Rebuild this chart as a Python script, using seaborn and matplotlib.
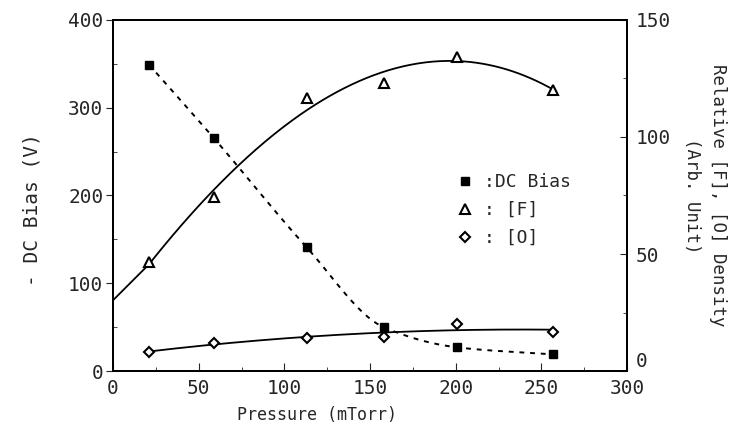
import matplotlib

matplotlib.use("Agg")

import matplotlib.pyplot as plt
import numpy as np
import seaborn as sns
from matplotlib.lines import Line2D
from matplotlib.ticker import MultipleLocator

# values
pressure = [21, 59, 113, 158, 201, 257]
dc_bias = [349, 265, 141, 50, 27, 19]
f_density = [46.6, 74.4, 116.7, 123, 134.3, 120]
o_density = [8.2, 12.2, 14.0, 14.6, 20.2, 16.8]

x_ticks = [0, 50, 100, 150, 200, 250, 300]
left_ticks = [0, 100, 200, 300, 400]
right_ticks = [0, 50, 100, 150]


def pchip(x, y, xs):
    x = np.asarray(x, float)
    y = np.asarray(y, float)
    h = np.diff(x)
    d = np.diff(y) / h
    m = np.zeros_like(y)
    for k in range(1, len(x) - 1):
        if d[k - 1] * d[k] > 0:
            w1 = 2 * h[k] + h[k - 1]
            w2 = h[k] + 2 * h[k - 1]
            m[k] = (w1 + w2) / (w1 / d[k - 1] + w2 / d[k])
    m[0] = d[0]
    m[-1] = d[-1]
    idx = np.clip(np.searchsorted(x, xs) - 1, 0, len(x) - 2)
    t = (xs - x[idx]) / h[idx]
    h00 = 2 * t**3 - 3 * t**2 + 1
    h10 = t**3 - 2 * t**2 + t
    h01 = -2 * t**3 + 3 * t**2
    h11 = t**3 - t**2
    return h00 * y[idx] + h10 * h[idx] * m[idx] + h01 * y[idx + 1] + h11 * h[idx] * m[idx + 1]


sns.set_style("ticks")
plt.rcParams["font.family"] = ["DejaVu Sans Mono", "DejaVu Sans"]

fig = plt.figure(figsize=(7.31, 4.32), dpi=100)
ax = fig.add_axes([0.1546, 0.141, 0.7032, 0.813])
ax2 = ax.twinx()

# fitted / smoothed curves
xs_dc = np.linspace(pressure[0], pressure[-1], 300)
sns.lineplot(x=xs_dc, y=pchip(pressure, dc_bias, xs_dc), ax=ax, color="black",
             lw=1.4, linestyle=(0, (2.5, 3)))

# [F]: cubic fit over the data, straight lead-in from the axis
xs_f = np.linspace(0, pressure[-1], 300)
f_coef = np.polyfit(pressure, f_density, 3)
f_fit = np.polyval(f_coef, xs_f)
lead_slope = (f_density[1] - f_density[0]) / (pressure[1] - pressure[0])
start_val = np.polyval(f_coef, pressure[0])
lead = xs_f < pressure[0]
f_fit[lead] = start_val + lead_slope * (xs_f[lead] - pressure[0])
sns.lineplot(x=xs_f, y=f_fit, ax=ax2, color="black", lw=1.3)

xs_o = np.linspace(pressure[0], pressure[-1], 300)
o_fit = np.polyval(np.polyfit(pressure, o_density, 2), xs_o)
sns.lineplot(x=xs_o, y=o_fit, ax=ax2, color="black", lw=1.3)

# data points
ax.plot(pressure, dc_bias, ls="none", marker="s", ms=6, color="black")
ax2.plot(pressure, f_density, ls="none", marker="^", ms=6.5, mfc="white",
         mec="black", mew=1.5)
ax2.plot(pressure, o_density, ls="none", marker="D", ms=5, mfc="white",
         mec="black", mew=1.5)

ax.set_xlim(0, 300)
ax.set_ylim(0, 400)
ax2.set_ylim(0, 150)
ax.set_xticks(x_ticks)
ax.set_yticks(left_ticks)
ax2.set_yticks(right_ticks)
ax.xaxis.set_minor_locator(MultipleLocator(25))
ax.yaxis.set_minor_locator(MultipleLocator(50))
ax2.yaxis.set_minor_locator(MultipleLocator(25))

ax.tick_params(axis="x", which="both", direction="in", labelsize=14, pad=6)
ax.tick_params(axis="x", which="major", length=6)
ax.tick_params(axis="x", which="minor", length=3)
ax.tick_params(axis="y", which="major", direction="out", length=5, labelsize=14, pad=2)
ax.tick_params(axis="y", which="minor", direction="in", length=3)
ax2.tick_params(axis="y", which="major", direction="in", length=5, labelsize=14, pad=6)
ax2.tick_params(axis="y", which="minor", direction="in", length=3)
ax2.get_yticklabels()[0].set_verticalalignment("bottom")

for a in (ax, ax2):
    for s in a.spines.values():
        s.set_linewidth(1.4)
        s.set_color("black")

ax.set_xlabel("Pressure (mTorr)", fontsize=12, labelpad=2)
ax.xaxis.set_label_coords(0.397, -0.1)
ax.set_ylabel("- DC Bias (V)", fontsize=14)
ax.yaxis.set_label_coords(-0.14, 0.46)
ax2.set_ylabel("Relative [F], [O] Density\n(Arb. Unit)", fontsize=12.5,
               rotation=270, linespacing=1.6, va="center")
ax2.yaxis.set_label_coords(1.152, 0.5)

handles = [
    Line2D([], [], ls="none", marker="s", ms=6, color="black"),
    Line2D([], [], ls="none", marker="^", ms=6.5, mfc="white", mec="black", mew=1.5),
    Line2D([], [], ls="none", marker="D", ms=5, mfc="white", mec="black", mew=1.5),
]
ax2.legend(handles, [":DC Bias", ": [F]", ": [O]"], loc="upper left",
           bbox_to_anchor=(0.64, 0.61), frameon=False, fontsize=13,
           handlelength=0.8, handletextpad=0.6, labelspacing=0.55)

fig.savefig("out.png", dpi=100)
